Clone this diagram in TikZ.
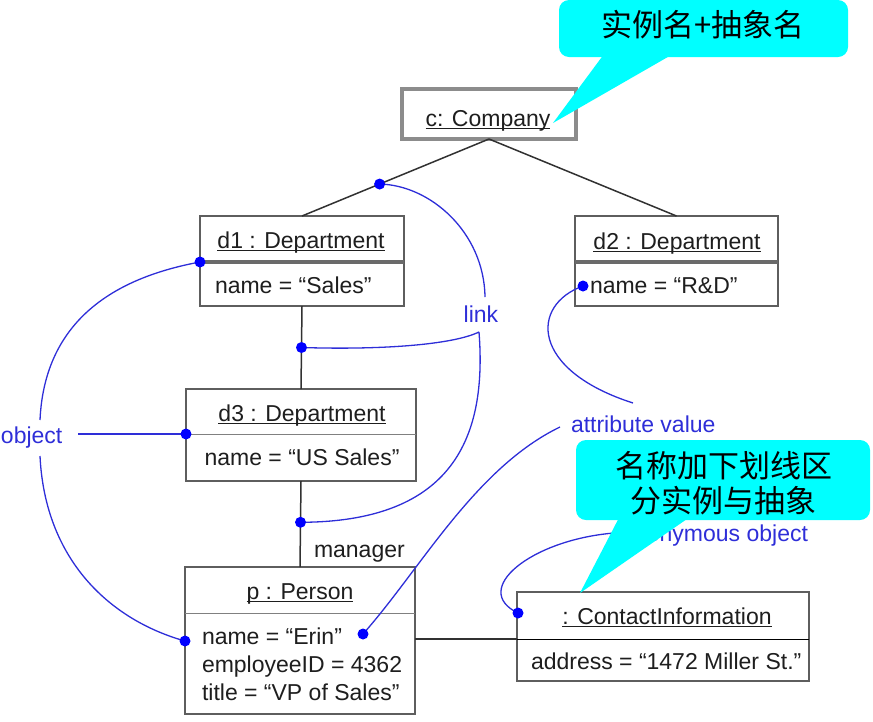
\documentclass[tikz,border=0pt]{standalone}
\usepackage{fontspec}
\setmainfont{Liberation Sans}
\newfontfamily\cjk{Noto Sans CJK SC}
\usetikzlibrary{calc}
\definecolor{boxgray}{HTML}{5E5E5E}
\definecolor{divgray}{HTML}{6A6A6A}
\definecolor{umlblue}{HTML}{2E2ED8}
\definecolor{dotblue}{HTML}{0000FF}
\definecolor{callcyan}{HTML}{00FFFF}
\definecolor{txt}{HTML}{1E1E1E}
\newcommand\ulname[1]{\setbox0\hbox{#1}\rlap{\rule[-3pt]{\wd0}{1.3pt}}\box0}
\begin{document}
\begin{tikzpicture}[x=1pt,y=-1pt,
  every node/.style={inner sep=0pt, outer sep=0pt},
  umlbox/.style n args={2}{draw=boxgray, line width=1.6pt, fill=white, rectangle,
     anchor=north west, minimum width=#1pt, minimum height=#2pt},
  thickdiv/.style={draw=divgray, line width=3.5pt},
  thindiv/.style={draw=gray, line width=1pt},
  assoc/.style={draw=txt!80!gray, line width=1.5pt},
  blueline/.style={draw=umlblue, line width=1.3pt},
  bdot/.style={fill=dotblue},
  lbl/.style={text=txt, font=\fontsize{23}{27}\selectfont},
  bluelbl/.style={text=umlblue, font=\fontsize{23}{27}\selectfont},
  cjklbl/.style={text=black, font=\cjk\fontsize{31}{36}\selectfont},
  callout/.style={fill=callcyan, rounded corners=10pt}
]
\useasboundingbox (0,0) rectangle (873,721);

% ---------- boxes ----------
\node[umlbox={174}{50}, draw=gray!90, line width=3.5pt] (company) at (402,89) {};
\node[umlbox={204}{90}] (d1) at (200,216) {};
\node[umlbox={203}{90}] (d2) at (575,216) {};
\node[umlbox={230}{92}] (d3) at (186,389) {};
\node[umlbox={230}{147}] (person) at (185,567) {};
\node[umlbox={292}{89}] (contact) at (517,592) {};

% dividers
\draw[thickdiv] ($(d1.north west)+(0,46)$) -- ($(d1.north east)+(0,46)$);
\draw[thickdiv] ($(d2.north west)+(0,46)$) -- ($(d2.north east)+(0,46)$);
\draw[thindiv] ($(d3.north west)+(0,45)$) -- ($(d3.north east)+(0,45)$);
\draw[thindiv] ($(person.north west)+(0,46)$) -- ($(person.north east)+(0,46)$);
\draw[draw=black, line width=1pt] ($(contact.north west)+(0,47)$) -- ($(contact.north east)+(0,47)$);

% ---------- box texts ----------
\node[lbl, anchor=base] (companyT) at (488,126) {\ulname{c: Company}};
\node[lbl, anchor=base] (d1T) at (301,248) {\ulname{d1 : Department}};
\node[lbl, anchor=base west] (d1A) at (215,293) {name = “Sales”};
\node[lbl, anchor=base] (d2T) at (677,249) {\ulname{d2 : Department}};
\node[lbl, anchor=base west] (d2A) at (590,293) {name = “R\&D”};
\node[lbl, anchor=base] (d3T) at (302,421) {\ulname{d3 : Department}};
\node[lbl, anchor=base] (d3A) at (302,465) {name = “US Sales”};
\node[lbl, anchor=base] (personT) at (300,599) {\ulname{p : Person}};
\node[lbl, anchor=base west] (personA1) at (202,644) {name = “Erin”};
\node[lbl, anchor=base west] (personA2) at (202,672) {employeeID = 4362};
\node[lbl, anchor=base west] (personA3) at (202,700) {title = “VP of Sales”};
\node[lbl, anchor=base] (contactT) at (667,624) {\ulname{: ContactInformation}};
\node[lbl, anchor=base west] (contactA) at (531,669) {address = “1472 Miller St.”};

% ---------- links ----------
\draw[assoc] (company.south) -- (d1.north);
\draw[assoc] (company.south) -- (d2.north);
\draw[assoc] (d1.south) -- (d3.north);
\draw[assoc] (d3.south) -- (person.north);
\draw[assoc] ([yshift=1.5pt]person.east) -- ([yshift=1.5pt]person.east -| contact.west);
\node[lbl, anchor=base west] (manager) at (314,557) {manager};

% ---------- dots ----------
\coordinate (L1) at ($(company.south)!0.585!(d1.north)$);
\coordinate (L2) at ($(d1.south)!0.5!(d3.north)$);
\coordinate (L3) at ($(d3.south)!0.48!(person.north)$);
\coordinate (O1) at ($(d1.north west)+(0,46)$);
\coordinate (O2) at ($(d3.north west)+(0,45)$);
\coordinate (O3) at ($(person.north west)+(0,74)$);
\coordinate (A1) at ($(d2.north west)+(8,70)$);
\coordinate (A2) at ($(person.north west)+(178,67)$);
\coordinate (N1) at ($(contact.north west)+(1,21)$);

% ---------- blue labels ----------
\node[bluelbl, anchor=base] (link) at (481,322) {link};
\node[bluelbl, anchor=base west] (object) at (1,443) {object};
\node[bluelbl, anchor=base west] (attr) at (571,432) {attribute value};
\node[bluelbl, anchor=base east] (anon) at (808,541) {anonymous object};

\coordinate (linkTop) at (485,297);
\coordinate (J) at (479,332);
\coordinate (objR) at (78,434);
\coordinate (objU) at (40,420);
\coordinate (objD) at (40,456);
\coordinate (attrU) at (633,403);
\coordinate (attrD) at (560,427);
\coordinate (anonL) at (614,533);

% ---------- blue curves ----------
\draw[blueline] (L1) .. controls (430,185) and (484,232) .. (linkTop);
\draw[blueline] (J) .. controls (452,345) and (380,350) .. (L2);
\draw[blueline] (J) .. controls (487,435) and (455,522) .. (L3);
\draw[blueline] (objR) -- (O2);
\draw[blueline] (objU) .. controls (45,310) and (130,275) .. (O1);
\draw[blueline] (objD) .. controls (45,560) and (110,620) .. (O3);
\draw[blueline] (A1) .. controls (530,305) and (530,370) .. (attrU);
\draw[blueline] (attrD) .. controls (475,468) and (420,570) .. (A2);
\draw[blueline] (anonL) .. controls (530,540) and (470,590) .. (N1);

\foreach \p in {L1,L2,L3,O1,O2,O3,A1,A2,N1} \fill[bdot] (\p) circle (5.5pt);

% ---------- callouts ----------
\fill[callcyan] (607,50) -- (680,50) -- (553,123) -- cycle;
\node[callout, anchor=north west, minimum width=289pt, minimum height=57pt] (call1) at (559,0) {};
\node[cjklbl, anchor=base] (call1T) at (703,36) {实例名+抽象名};

\fill[callcyan] (623,510) -- (700,510) -- (580,593) -- cycle;
\node[callout, anchor=north west, minimum width=294pt, minimum height=80pt] (call2) at (576,440) {};
\node[cjklbl, anchor=base] (call2T1) at (724,477) {名称加下划线区};
\node[cjklbl, anchor=base] (call2T2) at (723,512) {分实例与抽象};
\end{tikzpicture}
\end{document}
